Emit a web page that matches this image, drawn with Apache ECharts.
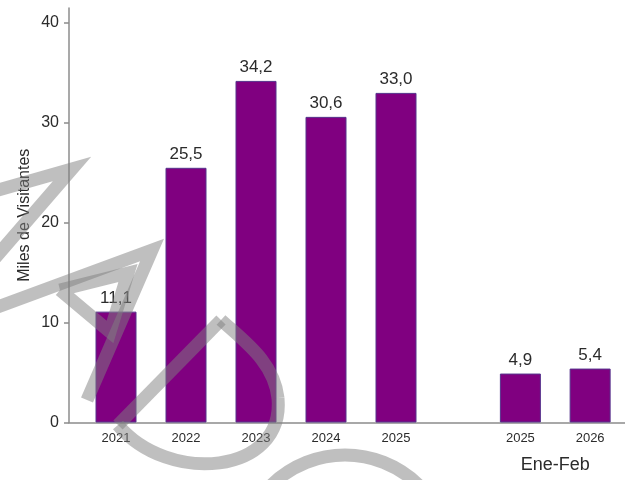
<!DOCTYPE html>
<html>
<head>
<meta charset="utf-8">
<script src="https://cdn.jsdelivr.net/npm/echarts@6/dist/echarts.min.js"></script>
<style>
html,body{margin:0;padding:0;background:#fff;}
#chart{width:625px;height:480px;}
</style>
</head>
<body>
<div id="chart"></div>
<script>
const annualYears = ['2021', '2022', '2023', '2024', '2025'];
const annualValues = [11.1, 25.5, 34.2, 30.6, 33.0];
const periodYears = ['2025', '2026'];
const periodValues = [4.9, 5.4];
const periodName = 'Ene-Feb';
const yTicks = [0, 10, 20, 30, 40];
const yName = 'Miles de Visitantes';

const FONT = '"Liberation Sans", Arial, sans-serif';
const TXT = '#2b2b2b';
const AX = '#8c8c8c';
const BAR = '#800080';
const YMAX = 41.5;

function fmt(v) { return v.toFixed(1).replace('.', ','); }

const gridTop = 8, gridBottom = 57.5;

const hiddenY = (i) => ({
  type: 'value', gridIndex: i, min: 0, max: YMAX,
  axisLine: {show: false}, axisTick: {show: false},
  axisLabel: {show: false}, splitLine: {show: false}
});

const barSeries = (i, vals) => ({
  type: 'bar', xAxisIndex: i, yAxisIndex: i, data: vals, barWidth: 41,
  itemStyle: {color: BAR, borderColor: '#56338c', borderWidth: 1},
  label: {show: true, position: 'top', distance: 5, formatter: p => fmt(p.value),
    fontFamily: FONT, fontSize: 17, color: TXT},
  silent: true
});

const wm = {stroke: 'rgba(128,128,128,0.5)', lineWidth: 13, fill: null, lineJoin: 'miter'};

const chart = echarts.init(document.getElementById('chart'), null, {renderer: 'canvas'});
chart.setOption({
  animation: false,
  backgroundColor: '#ffffff',
  grid: [
    {left: 69, right: 0, top: gridTop, bottom: gridBottom},
    {left: 81, width: 350, top: gridTop, bottom: gridBottom},
    {left: 485.5, width: 140, top: gridTop, bottom: gridBottom}
  ],
  xAxis: [
    {type: 'value', gridIndex: 0, min: 0, max: 1,
      axisLine: {show: true, lineStyle: {color: AX, width: 1.5}},
      axisTick: {show: false}, axisLabel: {show: false}, splitLine: {show: false}},
    {type: 'category', gridIndex: 1, data: annualYears,
      axisLine: {show: false}, axisTick: {show: false},
      axisLabel: {margin: 9, fontFamily: FONT, fontSize: 13, color: TXT}},
    {type: 'category', gridIndex: 2, data: periodYears,
      axisLine: {show: false}, axisTick: {show: false},
      axisLabel: {margin: 9, fontFamily: FONT, fontSize: 13, color: TXT},
      name: periodName, nameLocation: 'middle', nameGap: 34, nameMoveOverlap: false,
      nameTextStyle: {fontFamily: FONT, fontSize: 18, color: TXT}}
  ],
  yAxis: [
    {type: 'value', gridIndex: 0, min: 0, max: YMAX,
      axisLine: {show: true, lineStyle: {color: AX, width: 1.5}},
      axisTick: {show: true, length: 5, lineStyle: {color: AX, width: 1.5}, customValues: yTicks},
      axisLabel: {margin: 10, fontFamily: FONT, fontSize: 16, color: TXT, customValues: yTicks},
      splitLine: {show: false},
      name: yName, nameLocation: 'middle', nameGap: 36, nameMoveOverlap: false,
      nameTextStyle: {fontFamily: FONT, fontSize: 16, color: TXT}},
    hiddenY(1),
    hiddenY(2)
  ],
  series: [
    barSeries(1, annualValues),
    barSeries(2, periodValues)
  ],
  graphic: [
    {type: 'polyline', z: 100, silent: true, shape: {points: [[-5, 191], [72, 169], [-5, 258]]}, style: wm},
    {type: 'polyline', z: 100, silent: true, shape: {points: [[-5, 308], [152, 250], [87, 400]]}, style: wm},
    {type: 'polyline', z: 100, silent: true, shape: {points: [[60, 290], [128, 273], [110, 332], [60, 290]]}, style: wm},
    {type: 'line', z: 100, silent: true, shape: {x1: 221, y1: 320, x2: 118, y2: 425}, style: wm},
    {type: 'bezierCurve', z: 100, silent: true,
      shape: {x1: 118, y1: 425, x2: 278, y2: 398, cpx1: 168, cpy1: 485, cpx2: 285, cpy2: 475}, style: wm},
    {type: 'bezierCurve', z: 100, silent: true,
      shape: {x1: 278, y1: 398, x2: 221, y2: 320, cpx1: 274, cpy1: 362, cpx2: 245, cpy2: 342}, style: wm},
    {type: 'circle', z: 100, silent: true, shape: {cx: 345, cy: 560, r: 105}, style: wm}
  ]
});
</script>
</body>
</html>
